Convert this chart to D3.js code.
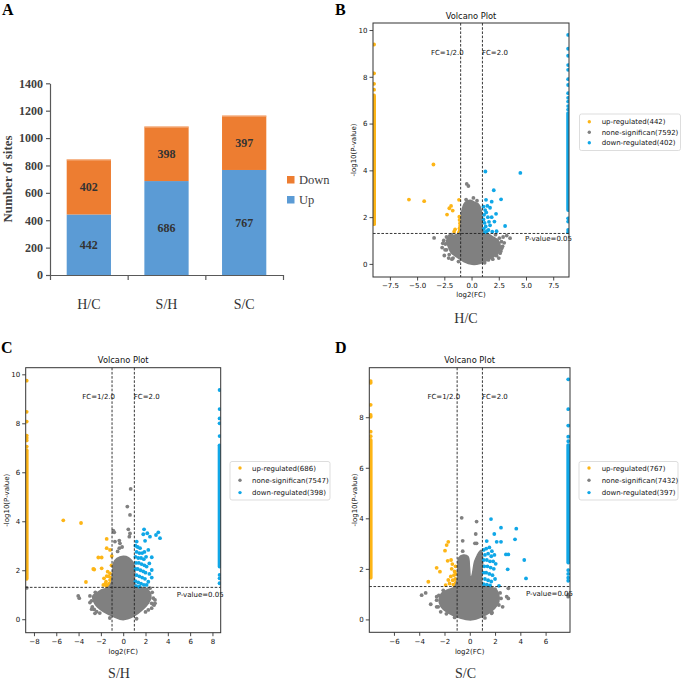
<!DOCTYPE html>
<html><head><meta charset="utf-8">
<script src="https://cdnjs.cloudflare.com/ajax/libs/d3/7.8.5/d3.min.js"></script>
<style>body{margin:0;background:#fff}svg{display:block}</style>
</head><body><svg id="c" width="685" height="682"></svg>
<script>
// ---------------- Panel A data ----------------
const barCategories = ["H/C", "S/H", "S/C"];
const upCounts = [442, 686, 767];
const downCounts = [402, 398, 397];
const barTicks = [0, 200, 400, 600, 800, 1000, 1200, 1400];
const barLegend = ["Down", "Up"];

// ---------------- Panel B (H/C) data ----------------
const hcUp = [[-3.5,4.25],[-5.75,2.75],[-4.35,2.68],[-1.88,2.48],[-2.04,2.38],[-1.73,2.28],[-2.25,2.11],[-1.15,2.74],[-1.12,2.02],[-1.1,1.88],[-1.06,1.74],[-1.05,1.62],[-1.1,1.52],[-1.51,1.48],[-1.6,1.38],[-1.08,1.42],[-1.15,1.35]];
const hcDown = [[1.27,3.95],[4.48,3.89],[2.04,3.15],[2.71,2.76],[1.33,2.74],[1.85,2.66],[1.45,2.48],[1.7,2.4],[2.25,2.14],[1.25,2.3],[1.85,2.0],[2.1,1.81],[3.08,1.62],[1.9,1.38],[1.55,1.45],[1.3,1.6],[1.7,1.65],[1.15,2.1],[1.1,1.9],[1.2,1.75],[1.12,1.5],[1.25,1.35],[1.4,1.4],[1.5,2.0],[1.35,2.2],[1.1,2.45],[1.6,1.8],[2.3,1.4]];
const hcGrey = [[-0.44,3.42],[-0.29,3.33],[0.17,2.82],[-0.84,2.21],[-3.44,1.11],[-2.5,0.36],[-2.43,0.6],[-2.64,0.88],[3.23,1.21],[3.54,1.1],[2.77,0.67],[2.62,0.46],[1.55,0.17],[1.85,0.53],[2.4,0.8],[-1.8,0.2],[2.2,1.25],[-2.0,1.2],[0.5,2.7],[-0.5,2.75],[2.9,1.15],
  [-2.55,1.0],[-2.4,0.85],[-2.3,0.6],[-2.05,0.4],[-1.7,0.25],[2.75,0.95],[2.85,0.75],[2.7,0.55],[2.3,0.35],[1.95,0.2],[-2.3,1.15],[-1.85,1.25],[2.55,1.1],[3.0,0.9],[-2.7,0.7],[1.2,0.05],[-1.2,0.1],[2.5,0.25],[-2.1,0.25]];
const hcCloud = [[0.05,0.0],[-0.7,0.12],[-1.4,0.33],[-1.85,0.5],[-2.1,0.75],[-2.25,1.0],[-2.0,1.15],[-1.5,1.22],[-1.06,1.3],[-0.92,1.85],[-0.78,2.4],[-0.55,2.62],[-0.14,2.7],[0.25,2.62],[0.58,2.55],[0.78,2.4],[0.93,2.0],[1.0,1.45],[1.4,1.3],[1.9,1.15],[2.4,1.0],[2.6,0.75],[2.4,0.48],[2.0,0.32],[1.45,0.18],[0.75,0.03]];
const hcEdgeX = [-8.95, 8.87];
const hcUpEdgeRange = [1.7, 7.2];
const hcUpEdgeY = [7.45, 7.7, 8.15, 9.38];
const hcDownEdgeRange = [2.3, 6.45];
const hcDownEdgeY = [6.6, 6.75, 6.94, 7.1, 7.3, 7.65, 7.9, 8.3, 8.5, 8.9, 9.2, 9.79, 1.95, 1.81, 1.45, 1.35];
const hcXTicks = [-7.5, -5, -2.5, 0, 2.5, 5, 7.5];
const hcYTicks = [0, 2, 4, 6, 8, 10];
const hcLegend = ["up-regulated(442)", "none-significan(7592)", "down-regulated(402)"];

// ---------------- Panel C (S/H) data ----------------
const shUp = [[-5.37,4.04],[-3.78,3.93],[-1.48,3.28],[-1.48,2.9],[-1.18,2.83],[-2.23,2.52],[-1.93,2.52],[-1.03,2.58],[-2.68,2.05],[-2.6,2.03],[-1.93,2.08],[-1.39,1.94],[-1.18,1.87],[-1.48,1.76],[-1.18,1.6],[-1.54,1.53],[-3.34,1.52],[-1.78,1.4],[-1.33,1.4],[-1.09,1.33],[-1.72,1.67],[-1.5,1.35],[-1.25,1.45],[-1.1,1.7],[-1.05,2.2],[-1.6,1.45],[-1.3,1.75]];
const shDown = [[1.87,3.67],[1.8,3.47],[2.16,3.51],[1.96,3.2],[2.4,3.37],[2.94,3.44],[3.15,3.55],[3.3,3.31],[1.21,3.17],[2.25,2.83],[1.51,2.9],[2.56,2.53],[2.34,2.28],[2.56,2.01],[2.56,1.7],[2.25,1.53],[2.1,1.4],[1.1,3.0],[1.3,2.95],[1.2,2.75],[1.45,2.7],[1.7,2.7],[1.9,2.75],[1.1,2.55],[1.35,2.5],[1.6,2.5],[1.85,2.45],[2.05,2.55],[1.15,2.3],[1.4,2.3],[1.65,2.25],[1.9,2.2],[2.1,2.15],[1.1,2.05],[1.3,2.05],[1.55,2.0],[1.8,1.95],[2.0,1.9],[1.2,1.8],[1.45,1.75],[1.7,1.7],[1.95,1.65],[1.1,1.55],[1.35,1.5],[1.6,1.45],[1.85,1.4],[1.15,1.35],[1.45,1.33],[2.35,1.85]];
const shGrey = [[0.67,5.32],[0.37,4.6],[0.61,4.26],[0.46,3.67],[0.61,3.5],[0.55,3.37],[-0.89,3.62],[-0.8,3.55],[-0.74,3.17],[-0.35,3.21],[-0.35,2.9],[-0.5,2.77],[-0.29,3.1],[-0.1,2.95],[-4.03,0.95],[-3.94,0.86],[-2.98,0.68],[-2.77,0.5],[-2.83,0.41],[-2.38,0.31],[2.85,0.65],[2.55,0.45],[2.85,0.79],[2.77,0.58],[2.7,0.61],[2.25,0.38],[-2.53,0.24],[2.4,1.27],[-8.65,1.28],
  [-2.98,0.95],[-2.85,0.75],[-2.6,0.4],[-2.1,0.25],[2.7,0.86],[2.6,1.1],[2.55,0.65],[2.0,0.3],[-2.5,1.1],[2.1,1.22],[1.2,0.02],[-1.2,0.05]];
const shCloud = [[0,0.0],[-0.85,0.13],[-1.75,0.33],[-2.3,0.52],[-2.6,0.72],[-2.7,0.93],[-2.35,1.05],[-1.95,1.18],[-1.34,1.27],[-1.03,1.47],[-0.89,2.01],[-0.83,2.29],[-0.53,2.47],[0,2.55],[0.46,2.5],[0.76,2.37],[1.0,2.15],[1.05,1.4],[1.7,1.27],[2.3,1.13],[2.45,0.88],[2.2,0.65],[1.7,0.4],[0.9,0.13]];
const shEdgeX = [-8.65, 8.64];
const shUpEdgeRange = [1.65, 6.9];
const shUpEdgeY = [7.05, 7.3, 7.4, 7.5, 8.07, 8.47, 9.74];
const shDownEdgeRange = [2.15, 7.1];
const shDownEdgeY = [7.48, 8.0, 8.2, 8.58, 9.36, 1.81, 1.67, 1.47];
const shXTicks = [-8, -6, -4, -2, 0, 2, 4, 6, 8];
const shYTicks = [0, 2, 4, 6, 8, 10];
const shLegend = ["up-regulated(686)", "none-significan(7547)", "down-regulated(398)"];

// ---------------- Panel D (S/C) data ----------------
const scUp = [[-1.7,3.07],[-1.83,2.94],[-1.96,2.72],[-1.75,2.32],[-1.48,2.35],[-1.38,2.19],[-2.62,2.04],[-2.36,1.89],[-1.43,2.0],[-3.28,1.49],[-1.7,1.56],[-1.91,1.36],[-1.2,1.9],[-1.25,1.75],[-1.15,1.6],[-1.1,1.45],[-1.3,1.38],[-1.5,1.7],[-1.12,2.1],[-1.35,1.55],[-1.6,1.42],[-1.1,1.8],[-1.2,1.35]];
const scDown = [[1.68,3.97],[2.47,3.63],[3.68,3.59],[3.58,3.17],[1.94,3.38],[1.34,3.1],[2.47,3.07],[2.13,3.07],[3.05,2.57],[2.86,2.57],[4.31,2.35],[3.0,1.98],[4.45,1.62],[2.31,1.33],[1.1,2.75],[1.3,2.8],[1.55,2.85],[1.75,2.7],[1.2,2.55],[1.45,2.6],[1.7,2.5],[1.95,2.55],[1.1,2.35],[1.35,2.35],[1.6,2.3],[1.85,2.3],[2.05,2.2],[1.15,2.1],[1.4,2.1],[1.65,2.05],[1.9,2.0],[1.1,1.85],[1.3,1.85],[1.55,1.8],[1.8,1.75],[1.2,1.6],[1.45,1.55],[1.7,1.5],[1.1,1.4],[1.35,1.38],[1.6,1.35],[2.0,1.6]];
const scGrey = [[-0.64,4.02],[0.54,3.87],[0.41,3.01],[0.47,3.38],[-0.56,3.11],[-0.56,2.7],[0.54,3.01],[-3.81,0.96],[-3.49,1.05],[-2.62,0.5],[-3.09,0.6],[-2.62,0.9],[2.92,0.9],[3.05,0.83],[1.73,0.24],[-2.3,0.3],[2.6,0.5],[3.05,1.23],[7.79,0.9],[7.79,0.98],
  [-2.62,0.76],[-2.45,0.95],[-2.5,0.5],[-1.85,0.22],[2.47,0.83],[2.4,1.05],[2.3,0.57],[1.75,0.28],[-2.1,1.15],[2.0,1.2],[-1.2,0.08],[1.2,0.06]];
const scCloud = [[0.15,0.0],[-0.75,0.07],[-1.7,0.27],[-2.25,0.52],[-2.4,0.77],[-2.2,1.02],[-1.75,1.15],[-1.17,1.27],[-0.96,1.56],[-0.91,2.22],[-0.85,2.42],[-0.51,2.53],[-0.17,2.48],[-0.06,2.08],[0.04,1.6],[0.2,1.72],[0.41,2.28],[0.62,2.52],[0.89,2.72],[0.99,2.35],[0.99,1.36],[1.55,1.28],[2.1,1.15],[2.3,0.85],[2.15,0.58],[1.65,0.32],[0.94,0.12]];
const scEdgeX = [-7.84, 7.79];
const scUpEdgeRange = [1.65, 7.1];
const scUpEdgeY = [7.25, 7.43, 8.02, 8.09, 8.49, 9.36, 9.43];
const scDownEdgeRange = [2.25, 6.9];
const scDownEdgeY = [7.05, 7.23, 7.67, 8.32, 9.5, 1.95, 1.8, 1.65, 1.53];
const scXTicks = [-6, -4, -2, 0, 2, 4, 6];
const scYTicks = [0, 2, 4, 6, 8];
const scLegend = ["up-regulated(767)", "none-significan(7432)", "down-regulated(397)"];

const pThreshold = -Math.log10(0.05);
const fcThreshold = 1; // log2(2.0)

// ---------------- drawing ----------------
const svg = d3.select("#c");
const SERIF = "'Liberation Serif','Times New Roman',serif";
const SANS = "'DejaVu Sans',sans-serif";
const YEL = "#FDB516", GRY = "#808080", BLU = "#10A7E7";
const ORANGE = "#ED7D31", BLUEBAR = "#5B9BD5";

// ---- Panel A ----
(function(){
  const g = svg.append("g");
  const xb = d3.scaleBand().domain(barCategories).range([50, 283]).paddingInner(0.43).paddingOuter(0.215);
  const yb = d3.scaleLinear().domain([0, 1400]).range([275, 83.3]);
  const rows = barCategories.map((c, i) => ({c, up: upCounts[i], down: downCounts[i]}));
  g.selectAll("rect.up").data(rows).join("rect")
    .attr("x", d => xb(d.c)).attr("width", xb.bandwidth())
    .attr("y", d => yb(d.up)).attr("height", d => yb(0) - yb(d.up)).attr("fill", BLUEBAR);
  g.selectAll("rect.down").data(rows).join("rect")
    .attr("x", d => xb(d.c)).attr("width", xb.bandwidth())
    .attr("y", d => yb(d.up + d.down)).attr("height", d => yb(d.up) - yb(d.up + d.down)).attr("fill", ORANGE);
  g.selectAll("line.top").data(rows).join("line")
    .attr("x1", d => xb(d.c)).attr("x2", d => xb(d.c) + xb.bandwidth())
    .attr("y1", d => yb(d.up + d.down) + 0.5).attr("y2", d => yb(d.up + d.down) + 0.5)
    .attr("stroke", "#F6B88E").attr("stroke-width", 1);
  const lab = (sel) => sel.attr("text-anchor", "middle").attr("font-family", SERIF).attr("font-weight", "bold").attr("font-size", 12).attr("fill", "#333");
  g.selectAll("text.u").data(rows).join("text").call(lab)
    .attr("x", d => xb(d.c) + xb.bandwidth() / 2).attr("y", d => yb(d.up / 2) + 4.3).text(d => d.up);
  g.selectAll("text.d").data(rows).join("text").call(lab)
    .attr("x", d => xb(d.c) + xb.bandwidth() / 2).attr("y", d => yb(d.up + d.down / 2) + 4.3).text(d => d.down);
  const ya = g.append("g").attr("transform", "translate(50,0)")
    .call(d3.axisLeft(yb).tickValues(barTicks).tickSize(4).tickSizeOuter(0).tickPadding(3).tickFormat(d3.format("d")));
  ya.selectAll("path,line").attr("stroke", "#595959").attr("stroke-width", 1.2);
  ya.selectAll("text").attr("font-family", SERIF).attr("font-weight", "bold").attr("font-size", 12).attr("fill", "#404040");
  const xl = d3.scaleLinear().domain([0, barCategories.length]).range([50, 283]);
  const xa = g.append("g").attr("transform", "translate(0,275)")
    .call(d3.axisBottom(xl).tickValues(d3.range(barCategories.length + 1)).tickSize(5).tickSizeOuter(0).tickFormat(""));
  xa.selectAll("path,line").attr("stroke", "#595959").attr("stroke-width", 1.2);
  g.selectAll("text.cat").data(barCategories).join("text")
    .attr("x", d => xb(d) + xb.bandwidth() / 2).attr("y", 308.5).attr("text-anchor", "middle")
    .attr("font-family", SERIF).attr("font-size", 14).attr("fill", "#333").text(d => d);
  g.append("text").attr("transform", "translate(11.5,179) rotate(-90)").attr("text-anchor", "middle")
    .attr("font-family", SERIF).attr("font-weight", "bold").attr("font-size", 13).attr("fill", "#404040").text("Number of sites");
  const lc = [ORANGE, BLUEBAR];
  barLegend.forEach((t, i) => {
    g.append("rect").attr("x", 287).attr("y", 176 + i * 20).attr("width", 7.5).attr("height", 7.5).attr("fill", lc[i]);
    g.append("text").attr("x", 299).attr("y", 184 + i * 20).attr("font-family", SERIF).attr("font-size", 12.5).attr("fill", "#404040").text(t);
  });
  svg.append("text").attr("x", 2).attr("y", 15).attr("font-family", SERIF).attr("font-weight", "bold").attr("font-size", 16).text("A");
})();

// ---- Volcano panels ----
const volcanoPanels = [
  {id: "B", letter: "B", letterX: 335, letterY: 15, label: "H/C", labelX: 466, labelY: 323,
   left: 373, right: 569, top: 23, bottom: 277, xDomain: [-9.05, 8.95], yDomain: [-0.56, 10.3],
   up: hcUp, down: hcDown, grey: hcGrey, cloud: hcCloud, edgeX: hcEdgeX,
   upRange: hcUpEdgeRange, upEdge: hcUpEdgeY, downRange: hcDownEdgeRange, downEdge: hcDownEdgeY,
   xTicks: hcXTicks, yTicks: hcYTicks, xFmt: d3.format(".1f"), legend: hcLegend,
   legBox: [579.5, 114, 101, 36.5], legRow0: 121.7, legStep: 10.5, legMarkX: 589.3, legTextX: 601.7,
   yLabelX: 356, xLabelDy: 20, pDy: 8},
  {id: "C", letter: "C", letterX: 1, letterY: 353, label: "S/H", labelX: 119, labelY: 678,
   left: 25.7, right: 220.7, top: 367.7, bottom: 632.7, xDomain: [-8.74, 8.74], yDomain: [-0.55, 10.27],
   up: shUp, down: shDown, grey: shGrey, cloud: shCloud, edgeX: shEdgeX,
   upRange: shUpEdgeRange, upEdge: shUpEdgeY, downRange: shDownEdgeRange, downEdge: shDownEdgeY,
   xTicks: shXTicks, yTicks: shYTicks, xFmt: d3.format("d"), legend: shLegend,
   legBox: [230, 461.5, 100, 38.5], legRow0: 468, legStep: 12.3, legMarkX: 240, legTextX: 252,
   yLabelX: 8.7, xLabelDy: 21.5, pDy: 9.5},
  {id: "D", letter: "D", letterX: 335, letterY: 353, label: "S/C", labelX: 465.5, labelY: 678,
   left: 369.3, right: 570, top: 367.7, bottom: 632.3, xDomain: [-7.95, 7.93], yDomain: [-0.51, 9.96],
   up: scUp, down: scDown, grey: scGrey, cloud: scCloud, edgeX: scEdgeX,
   upRange: scUpEdgeRange, upEdge: scUpEdgeY, downRange: scDownEdgeRange, downEdge: scDownEdgeY,
   xTicks: scXTicks, yTicks: scYTicks, xFmt: d3.format("d"), legend: scLegend,
   legBox: [579, 461.5, 99, 38.5], legRow0: 468, legStep: 12.3, legMarkX: 589, legTextX: 601.7,
   yLabelX: 356.5, xLabelDy: 21.5, pDy: 9.5}
];

const R = 1.9;
function drawVolcano(p) {
  const g = svg.append("g");
  const x = d3.scaleLinear().domain(p.xDomain).range([p.left, p.right]);
  const y = d3.scaleLinear().domain(p.yDomain).range([p.bottom, p.top]);
  const clipId = "clip" + p.id;
  svg.append("clipPath").attr("id", clipId).append("rect")
    .attr("x", p.left).attr("y", p.top).attr("width", p.right - p.left).attr("height", p.bottom - p.top);
  const plot = g.append("g").attr("clip-path", `url(#${clipId})`);
  const dots = (data, color) => plot.append("g").selectAll("circle").data(data).join("circle")
    .attr("cx", d => x(d[0])).attr("cy", d => y(d[1])).attr("r", R).attr("fill", color);
  const column = (xv, range, color) => plot.append("line")
    .attr("x1", x(xv)).attr("x2", x(xv)).attr("y1", y(range[0])).attr("y2", y(range[1]))
    .attr("stroke", color).attr("stroke-width", 2 * R).attr("stroke-linecap", "round");
  column(p.edgeX[0], p.upRange, YEL);
  dots(p.upEdge.map(v => [p.edgeX[0], v]), YEL);
  dots(p.up, YEL);
  plot.append("path").datum(p.cloud)
    .attr("d", d3.line().x(d => x(d[0])).y(d => y(d[1])).curve(d3.curveCatmullRomClosed.alpha(0.5)))
    .attr("fill", GRY).attr("stroke", GRY).attr("stroke-width", 2.4).attr("stroke-linejoin", "round");
  dots(p.grey, GRY);
  column(p.edgeX[1], p.downRange, BLU);
  dots(p.downEdge.map(v => [p.edgeX[1], v]), BLU);
  dots(p.down, BLU);

  const dash = "2.6,1.6", dc = "#222";
  [-fcThreshold, fcThreshold].forEach(v => g.append("line").attr("x1", x(v)).attr("x2", x(v))
    .attr("y1", p.top).attr("y2", p.bottom).attr("stroke", dc).attr("stroke-width", 0.9).attr("stroke-dasharray", dash));
  g.append("line").attr("x1", p.left).attr("x2", p.right).attr("y1", y(pThreshold)).attr("y2", y(pThreshold))
    .attr("stroke", dc).attr("stroke-width", 0.9).attr("stroke-dasharray", dash);

  const txt = (sel, size) => sel.attr("font-family", SANS).attr("font-size", size).attr("fill", "#111");
  g.append("text").call(txt, 7).attr("x", x(-fcThreshold) + 3).attr("y", p.top + 31.5).attr("text-anchor", "end").text("FC=1/2.0");
  g.append("text").call(txt, 7).attr("x", x(fcThreshold) - 0.5).attr("y", p.top + 31.5).text("FC=2.0");
  g.append("text").call(txt, 7).attr("x", p.right - 44).attr("y", y(pThreshold) + p.pDy).text("P-value=0.05");

  g.append("rect").attr("x", p.left).attr("y", p.top).attr("width", p.right - p.left).attr("height", p.bottom - p.top)
    .attr("fill", "none").attr("stroke", "#333").attr("stroke-width", 1);
  const minus = s => s.replace("-", "\u2212");
  const xa = g.append("g").attr("transform", `translate(0,${p.bottom})`)
    .call(d3.axisBottom(x).tickValues(p.xTicks).tickSize(3.5).tickPadding(3).tickFormat(d => minus(p.xFmt(d))));
  const ya = g.append("g").attr("transform", `translate(${p.left},0)`)
    .call(d3.axisLeft(y).tickValues(p.yTicks).tickSize(3.5).tickPadding(2).tickFormat(d3.format("d")));
  [xa, ya].forEach(a => {
    a.select(".domain").remove();
    a.selectAll("line").attr("stroke", "#333").attr("stroke-width", 0.9);
    a.selectAll("text").attr("font-family", SANS).attr("font-size", 7).attr("fill", "#111");
  });
  g.append("text").call(txt, 7).attr("x", (p.left + p.right) / 2).attr("y", p.bottom + p.xLabelDy)
    .attr("text-anchor", "middle").text("log2(FC)");
  g.append("text").call(txt, 7).attr("transform", `translate(${p.yLabelX},${(p.top + p.bottom) / 2}) rotate(-90)`)
    .attr("text-anchor", "middle").text("-log10(P-value)");
  g.append("text").call(txt, 8.3).attr("x", (p.left + p.right) / 2).attr("y", p.top - 4.5)
    .attr("text-anchor", "middle").text("Volcano Plot");

  const lb = p.legBox;
  g.append("rect").attr("x", lb[0]).attr("y", lb[1]).attr("width", lb[2]).attr("height", lb[3]).attr("rx", 2)
    .attr("fill", "#fff").attr("stroke", "#d4d4d4").attr("stroke-width", 0.8);
  const lcol = [YEL, GRY, BLU];
  p.legend.forEach((t, i) => {
    const yy = p.legRow0 + i * p.legStep;
    g.append("circle").attr("cx", p.legMarkX).attr("cy", yy).attr("r", 1.7).attr("fill", lcol[i]);
    g.append("text").call(txt, 7).attr("x", p.legTextX).attr("y", yy + 2.5).text(t);
  });

  svg.append("text").attr("x", p.letterX).attr("y", p.letterY).attr("font-family", SERIF).attr("font-weight", "bold").attr("font-size", 16).text(p.letter);
  svg.append("text").attr("x", p.labelX).attr("y", p.labelY).attr("text-anchor", "middle").attr("font-family", SERIF)
    .attr("font-size", 14).attr("fill", "#333").text(p.label);
}
volcanoPanels.forEach(drawVolcano);
</script></body></html>
